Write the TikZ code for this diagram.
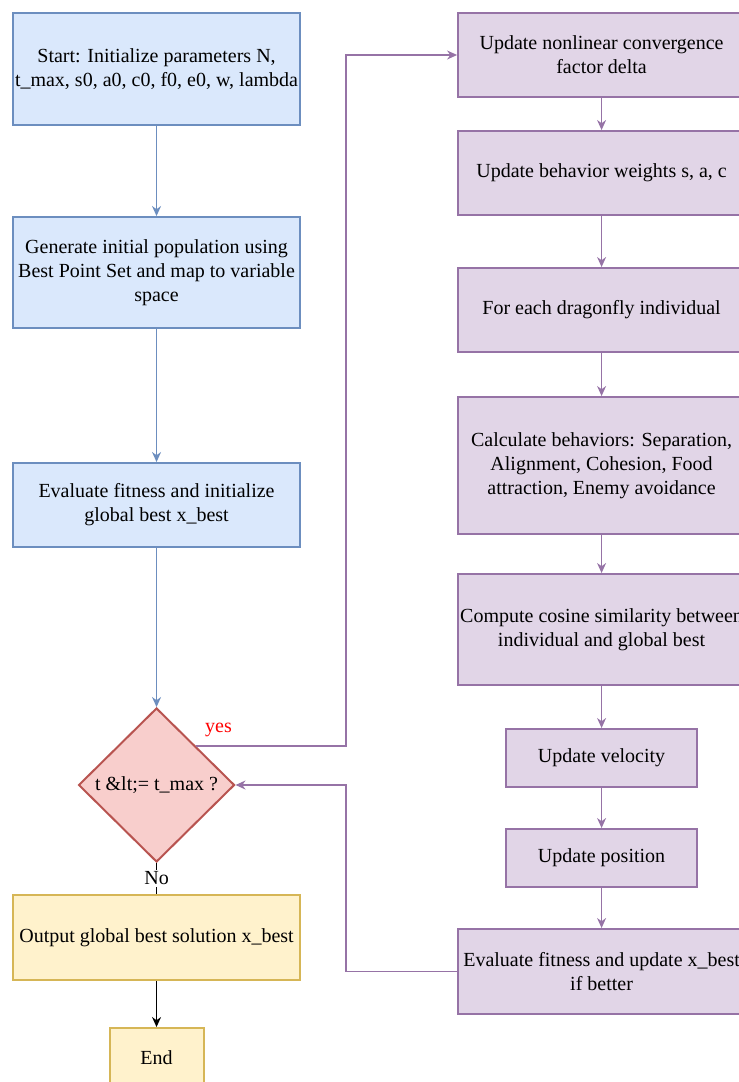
\documentclass[tikz,border=0pt]{standalone}
\usepackage{fontspec}
\setmainfont{Liberation Serif}
\usepackage{xcolor}
\usetikzlibrary{arrows.meta, positioning, shapes.geometric}

\definecolor{blueFill}{HTML}{DAE8FC}
\definecolor{blueLine}{HTML}{6C8EBF}
\definecolor{redFill}{HTML}{F8CECC}
\definecolor{redLine}{HTML}{B85450}
\definecolor{yellowFill}{HTML}{FFF2CC}
\definecolor{yellowLine}{HTML}{D6B656}
\definecolor{purpleFill}{HTML}{E1D5E7}
\definecolor{purpleLine}{HTML}{9673A6}

\begin{document}
\begin{tikzpicture}[
  every node/.style={font=\fontsize{10}{12}\selectfont},
  stepbox/.style={rectangle, line width=1pt, align=center, inner sep=1pt, minimum width=143.5pt},
  initbox/.style={stepbox, draw=blueLine, fill=blueFill},
  loopbox/.style={stepbox, draw=purpleLine, fill=purpleFill},
  outbox/.style={stepbox, draw=yellowLine, fill=yellowFill},
  decide/.style={diamond, draw=redLine, fill=redFill, line width=1pt, inner sep=0pt, minimum width=78pt, minimum height=77pt},
  blueflow/.style={draw=blueLine, line width=0.6pt, -{Stealth[length=5pt, width=4.5pt]}},
  purpleflow/.style={draw=purpleLine, line width=0.6pt, -{Stealth[length=5pt, width=4.5pt]}},
  blackflow/.style={draw=black, line width=0.6pt, -{Stealth[length=5pt, width=4.5pt]}},
  node distance=20pt,
]
  \useasboundingbox (0,0) rectangle (369.5pt,-541pt);
  \clip (0,0) rectangle (369.5pt,-541pt);

  \node[initbox, minimum height=56pt, anchor=north west] (init) at (6pt,-6pt) {Start: Initialize parameters N,\\t\_max, s0, a0, c0, f0, e0, w, lambda};
  \node[initbox, minimum height=55.5pt, below=45pt of init] (gen) {Generate initial population using\\Best Point Set and map to variable\\space};
  \node[initbox, minimum height=42pt, below=66.5pt of gen] (evalinit) {Evaluate fitness and initialize\\global best x\_best};
  \node[decide, below=79.5pt of evalinit] (cond) {t \&lt;= t\_max ?};
  \node[outbox, minimum height=42.5pt, below=15.5pt of cond] (output) {Output global best solution x\_best};
  \node[outbox, minimum width=47pt, minimum height=30pt, below=23pt of output] (stop) {End};

  \node[loopbox, minimum height=42pt, right=78pt of init.north east, anchor=north west] (delta) {Update nonlinear convergence\\factor delta};
  \node[loopbox, minimum height=42pt, below=16pt of delta] (weights) {Update behavior weights s, a, c};
  \node[loopbox, minimum height=42pt, below=25.5pt of weights] (each) {For each dragonfly individual};
  \node[loopbox, minimum height=68.5pt, below=21.5pt of each] (behav) {Calculate behaviors: Separation,\\Alignment, Cohesion, Food\\attraction, Enemy avoidance};
  \node[loopbox, minimum height=55.5pt, below=19pt of behav] (cosine) {Compute cosine similarity between\\individual and global best};
  \node[loopbox, minimum width=95.5pt, minimum height=29pt, below=21pt of cosine] (vel) {Update velocity};
  \node[loopbox, minimum width=95.5pt, minimum height=29pt, below=20pt of vel] (pos) {Update position};
  \node[loopbox, minimum height=42.5pt, below=20pt of pos] (evalupd) {Evaluate fitness and update x\_best\\if better};

  \coordinate (bus) at ([xshift=22.5pt]init.east);

  \draw[blueflow] (init) -- (gen);
  \draw[blueflow] (gen) -- (evalinit);
  \draw[blueflow] (evalinit) -- (cond);
  \draw[line width=0.6pt] (cond) -- node[fill=white, inner sep=1pt] (no) {No} (output);
  \draw[blackflow] (output) -- (stop);

  \draw[purpleflow] (cond.north east) -| node[pos=0.075, above, text=red, yshift=1pt] (yes) {yes} (bus |- delta.west) -- (delta.west);
  \foreach \a/\b in {delta/weights, weights/each, each/behav, behav/cosine, cosine/vel, vel/pos, pos/evalupd}
    \draw[purpleflow] (\a) -- (\b);
  \draw[purpleflow] (evalupd.west) -| (bus |- cond.east) -- (cond.east);
\end{tikzpicture}
\end{document}
